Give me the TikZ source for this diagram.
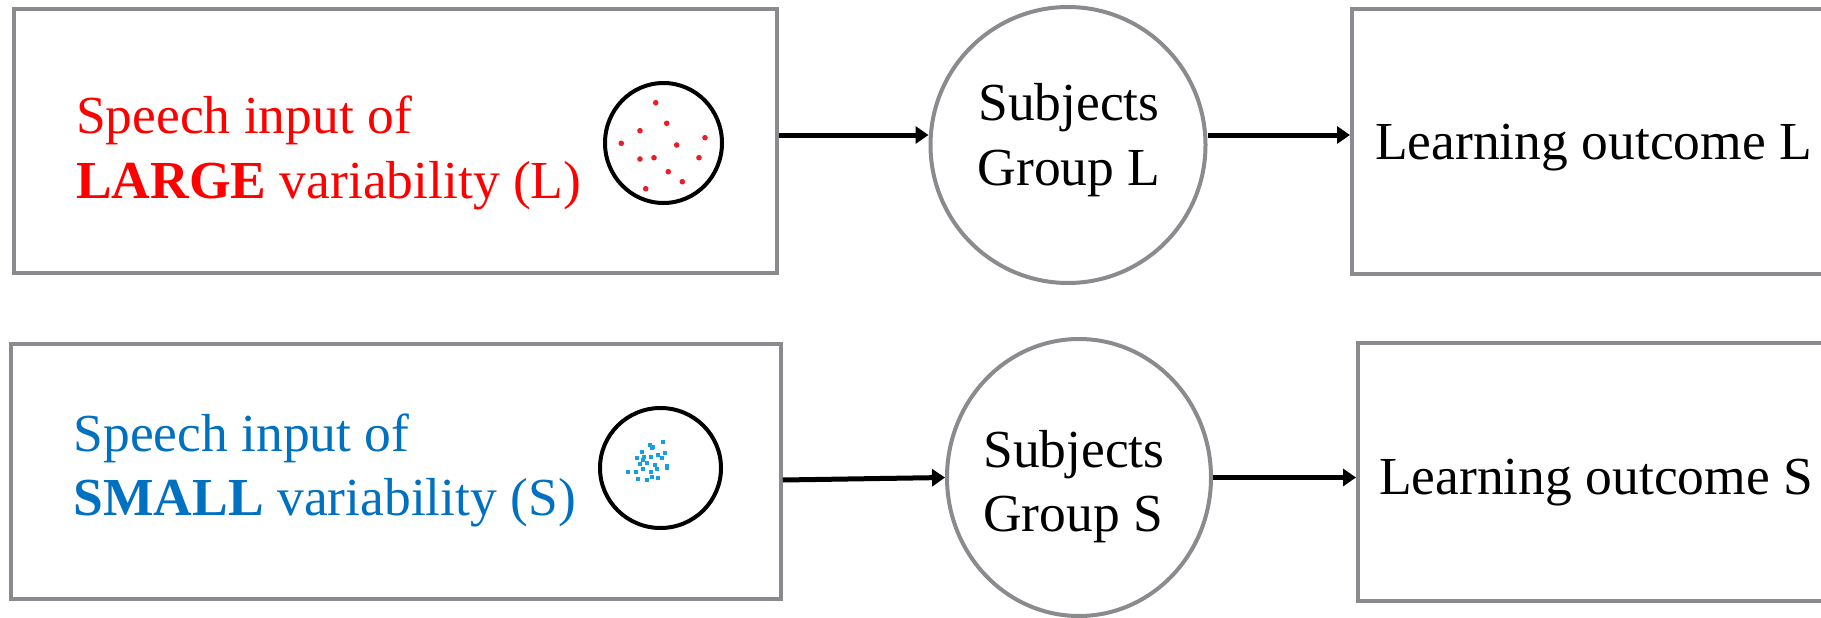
\documentclass[tikz,border=0pt]{standalone}
\usepackage{fontspec}
\setmainfont{Liberation Serif}
\usetikzlibrary{arrows.meta,shapes.geometric}
\definecolor{framegray}{RGB}{137,139,142}
\definecolor{lgred}{RGB}{255,0,0}
\definecolor{smblue}{RGB}{0,112,192}
\definecolor{dotred}{RGB}{232,30,40}
\definecolor{dotblue}{RGB}{20,160,225}
\tikzset{
  framebox/.style={draw=framegray, line width=4pt, rectangle, inner sep=0pt},
  groupcirc/.style={draw=framegray, line width=4pt, ellipse, inner sep=0pt},
  scatter/.style={draw=black, line width=4pt, ellipse, inner sep=0pt},
  arr/.style={draw=black, line width=5pt, -{Triangle[length=13pt,width=17pt]}},
  txt/.style={inner sep=0pt, font=\fontsize{53.5}{65}\selectfont},
  reddot/.style={fill=dotred},
  bluedot/.style={fill=dotblue}
}
\begin{document}
\begin{tikzpicture}[x=1pt, y=-1pt]
  \useasboundingbox (0,0) rectangle (1821,618);
  \clip (0,0) rectangle (1821,618);
  \fill[white] (0,0) rectangle (1821,618);

  % upper row: large variability
  \node[framebox, minimum width=763pt, minimum height=264pt] (inL) at (395.5,141) {};
  \node[groupcirc, minimum width=275pt, minimum height=276pt] (grpL) at (1068,145) {};
  \node[framebox, minimum width=548pt, minimum height=265pt] (outL) at (1626,141.5) {};
  \node[scatter, minimum width=117pt, minimum height=120pt] (sctL) at (663.5,143) {};

  \node[txt, anchor=base west, text=lgred] (inLa) at (76,133) {Speech input of};
  \node[txt, anchor=base west, text=lgred] (inLb) at (76,198) {\textbf{LARGE} variability (L)};
  \node[txt, anchor=base] (grpLa) at (1069,120) {Subjects};
  \node[txt, anchor=base] (grpLb) at (1069,185) {Group L};
  \node[txt, anchor=base west] (outLa) at (1375,159) {Learning outcome L};

  \foreach \px/\py in {655.7/102.7, 666.7/123.3, 640/130.7, 621.3/143.3, 705/137.7,
      676.7/145, 640/159, 654/157.7, 699/157.7, 668.3/171.7, 682.3/181.7, 645.7/188.7}
    \fill[reddot] (\px,\py) circle (2.8pt);

  % lower row: small variability
  \node[framebox, minimum width=769.5pt, minimum height=255pt] (inS) at (396,471.5) {};
  \node[groupcirc, minimum width=264pt, minimum height=277pt] (grpS) at (1079,477.5) {};
  \node[framebox, minimum width=542pt, minimum height=258pt] (outS) at (1629,472) {};
  \node[scatter, minimum width=121pt, minimum height=120pt] (sctS) at (660.5,468) {};

  \node[txt, anchor=base west, text=smblue] (inSa) at (73.5,451) {Speech input of};
  \node[txt, anchor=base west, text=smblue] (inSb) at (73.5,515) {\textbf{SMALL} variability (S)};
  \node[txt, anchor=base] (grpSa) at (1074,467) {Subjects};
  \node[txt, anchor=base] (grpSb) at (1073,531) {Group S};
  \node[txt, anchor=base west] (outSa) at (1379,494) {Learning outcome S};

  \foreach \px/\py in {650/445, 653.3/447.3, 651.7/448.3, 663.3/442.3, 642.3/451.7,
      665/453.3, 658.3/455, 636.7/457.7, 643.3/460, 650.7/456.7, 661.7/458.3,
      640/464, 646.7/462.7, 655/465, 666.7/466, 627.7/471.7, 635.7/471.7,
      643.3/469.3, 656.7/469.3, 650.7/471.7, 638.3/479, 646.7/480, 651.7/476.7,
      658.3/478.3, 666.7/468.3, 644.3/456.7}
    \fill[bluedot] (\px-2,\py-2) rectangle (\px+2,\py+2);

  % connectors
  \draw[arr] ([yshift=6pt]inL.east) -- ([yshift=6pt]inL.east -| grpL.west);
  \draw[arr] ([yshift=10pt]grpL.east) -- ([yshift=10pt]grpL.east -| outL.west);
  \draw[arr] ([yshift=-8.5pt]inS.east) -- (grpS.west);
  \draw[arr] (grpS.east) -- (grpS.east -| outS.west);
\end{tikzpicture}
\end{document}
